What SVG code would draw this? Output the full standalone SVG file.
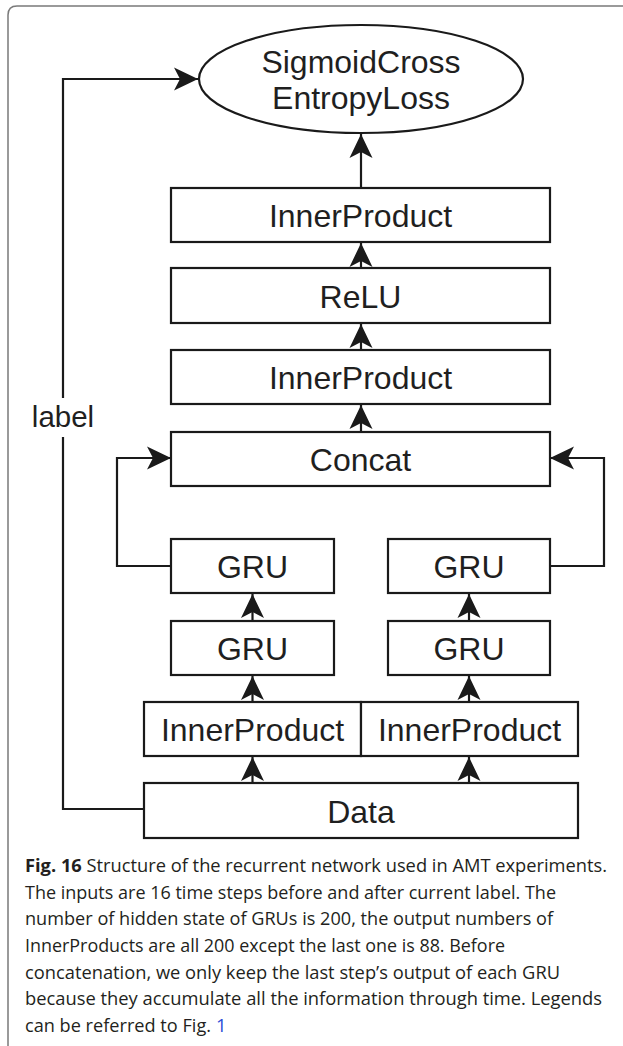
<svg xmlns="http://www.w3.org/2000/svg" width="623" height="1046" viewBox="0 0 623 1046">
<style>
.box{fill:#fff;stroke:#1a1a1a;stroke-width:2.2}
.lbl{font-family:"Liberation Sans",Arial,sans-serif;font-size:32px;fill:#1f1f1f;text-anchor:middle}
.conn{fill:none;stroke:#1a1a1a;stroke-width:2.2}
.cap{font-family:"Open Sans","Noto Sans",sans-serif;font-size:18.5px;fill:#231f20}
.link{fill:#2b4fd8}
</style>
<defs>
<marker id="ah" viewBox="-24 -12 25 24" refX="0" refY="0" markerWidth="25" markerHeight="24" markerUnits="userSpaceOnUse" orient="auto">
<path d="M0,0 L-24,-11.5 L-18,0 L-24,11.5 Z" fill="#1a1a1a"/>
</marker>
</defs>
<rect width="623" height="1046" fill="#fff"/>
<path d="M8,1046 L8,15 Q8,6 17,6 L623,6" fill="none" stroke="#7a7a7a" stroke-width="1.5"/>

<g id="connectors">
<path class="conn" d="M144,809 H63 V437"/>
<path class="conn" d="M63,398 V79 H198" marker-end="url(#ah)"/>
<path class="conn" d="M361,188 V134" marker-end="url(#ah)"/>
<path class="conn" d="M361,268 V243" marker-end="url(#ah)"/>
<path class="conn" d="M361,350 V324" marker-end="url(#ah)"/>
<path class="conn" d="M361,432 V405" marker-end="url(#ah)"/>
<path class="conn" d="M171,566 H117 V458 H171" marker-end="url(#ah)"/>
<path class="conn" d="M550,566 H604 V458 H550" marker-end="url(#ah)"/>
<path class="conn" d="M252.5,621 V594" marker-end="url(#ah)"/>
<path class="conn" d="M252.5,702 V676" marker-end="url(#ah)"/>
<path class="conn" d="M252.5,783 V757" marker-end="url(#ah)"/>
<path class="conn" d="M469,621 V594" marker-end="url(#ah)"/>
<path class="conn" d="M469,702 V676" marker-end="url(#ah)"/>
<path class="conn" d="M469,783 V757" marker-end="url(#ah)"/>
<text x="63" y="427" font-family="Liberation Sans,Arial,sans-serif" font-size="29.5" fill="#1f1f1f" text-anchor="middle">label</text>
</g>

<g id="loss">
<ellipse cx="361" cy="79" rx="162" ry="54" class="box"/>
<text class="lbl" x="361" y="73">SigmoidCross</text>
<text class="lbl" x="361" y="109">EntropyLoss</text>
</g>
<g id="ip3">
<rect class="box" x="171" y="188" width="379" height="54"/>
<text class="lbl" x="360.5" y="227">InnerProduct</text>
</g>
<g id="relu">
<rect class="box" x="171" y="268" width="379" height="55"/>
<text class="lbl" x="360.5" y="307.5">ReLU</text>
</g>
<g id="ip2">
<rect class="box" x="171" y="350" width="379" height="54"/>
<text class="lbl" x="360.5" y="389">InnerProduct</text>
</g>
<g id="concat">
<rect class="box" x="171" y="432" width="379" height="54"/>
<text class="lbl" x="360.5" y="470.5">Concat</text>
</g>
<g id="gru_l2">
<rect class="box" x="171" y="539" width="163" height="54"/>
<text class="lbl" x="252.5" y="578">GRU</text>
</g>
<g id="gru_r2">
<rect class="box" x="388" y="539" width="162" height="54"/>
<text class="lbl" x="469" y="578">GRU</text>
</g>
<g id="gru_l1">
<rect class="box" x="171" y="621" width="163" height="54"/>
<text class="lbl" x="252.5" y="660">GRU</text>
</g>
<g id="gru_r1">
<rect class="box" x="388" y="621" width="162" height="54"/>
<text class="lbl" x="469" y="660">GRU</text>
</g>
<g id="ip_l">
<rect class="box" x="144" y="702" width="217" height="54"/>
<text class="lbl" x="252.5" y="741">InnerProduct</text>
</g>
<g id="ip_r">
<rect class="box" x="361" y="702" width="217" height="54"/>
<text class="lbl" x="469.5" y="741">InnerProduct</text>
</g>
<g id="data">
<rect class="box" x="144" y="783" width="434" height="55"/>
<text class="lbl" x="361" y="822.5">Data</text>
</g>

<g id="caption">
<text class="cap" x="25" y="872" textLength="582" lengthAdjust="spacingAndGlyphs"><tspan font-weight="bold">Fig. 16</tspan> Structure of the recurrent network used in AMT experiments.</text>
<text class="cap" x="25" y="898.5" textLength="531" lengthAdjust="spacingAndGlyphs">The inputs are 16 time steps before and after current label. The</text>
<text class="cap" x="25" y="925" textLength="528" lengthAdjust="spacingAndGlyphs">number of hidden state of GRUs is 200, the output numbers of</text>
<text class="cap" x="25" y="952" textLength="480" lengthAdjust="spacingAndGlyphs">InnerProducts are all 200 except the last one is 88. Before</text>
<text class="cap" x="25" y="978.5" textLength="535" lengthAdjust="spacingAndGlyphs">concatenation, we only keep the last step’s output of each GRU</text>
<text class="cap" x="25" y="1005" textLength="577" lengthAdjust="spacingAndGlyphs">because they accumulate all the information through time. Legends</text>
<text class="cap" x="25" y="1031.5" textLength="186" lengthAdjust="spacingAndGlyphs">can be referred to Fig.</text>
<text class="cap link" x="216" y="1031.5">1</text>
</g>
</svg>
